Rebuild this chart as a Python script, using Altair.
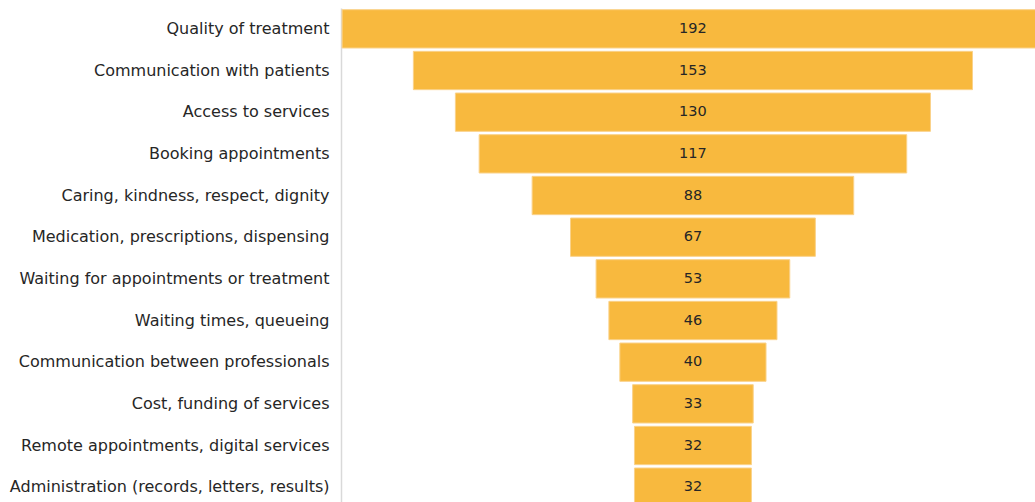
import altair as alt
import pandas as pd

categories = [
    "Quality of treatment",
    "Communication with patients",
    "Access to services",
    "Booking appointments",
    "Caring, kindness, respect, dignity",
    "Medication, prescriptions, dispensing",
    "Waiting for appointments or treatment",
    "Waiting times, queueing",
    "Communication between professionals",
    "Cost, funding of services",
    "Remote appointments, digital services",
    "Administration (records, letters, results)",
]
values = [192, 153, 130, 117, 88, 67, 53, 46, 40, 33, 32, 32]

df = pd.DataFrame({"category": categories, "value": values})

FONT = "DejaVu Sans"

base = alt.Chart(df).transform_calculate(
    x0="-datum.value / 2", x1="datum.value / 2", mid="0"
)

yenc = alt.Y(
    "category:N",
    sort=categories,
    title=None,
    scale=alt.Scale(paddingInner=0.08, paddingOuter=0.04),
    axis=alt.Axis(
        ticks=False,
        labelFont=FONT,
        labelFontSize=16,
        labelColor="#262626",
        labelPadding=12,
        domainColor="#d9d9d9",
        domainWidth=1.5,
        labelLimit=400,
    ),
)

xscale = alt.Scale(domain=[-96.3, 93.6], nice=False, zero=False)

bars = base.mark_bar(
    color="#F8B93E", stroke="#FAD28A", strokeWidth=1, clip=True
).encode(
    y=yenc,
    x=alt.X("x0:Q", scale=xscale, axis=None),
    x2="x1:Q",
)

labels = base.mark_text(
    font=FONT, fontSize=14.5, color="#262626", align="center", baseline="middle"
).encode(
    y=alt.Y("category:N", sort=categories),
    x=alt.X("mid:Q", scale=xscale),
    text="value:Q",
)

chart = (
    alt.layer(bars, labels)
    .properties(
        width=694,
        height=500,
        autosize=alt.AutoSizeParams(type="none"),
        padding={"left": 341, "top": 8, "right": 0, "bottom": 0},
    )
    .configure_view(stroke=None)
)

chart.save("out.html", embed_options={"renderer": "svg", "actions": False})
